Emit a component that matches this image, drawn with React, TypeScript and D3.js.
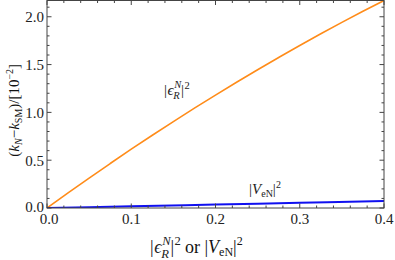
import React from 'react';
import * as d3 from 'd3';

// values
const xValues = [0, 0.025, 0.05, 0.075, 0.1, 0.125, 0.15, 0.175, 0.2, 0.225, 0.25, 0.275, 0.3, 0.325, 0.35, 0.375, 0.4];
const epsValues = [0, 0.158, 0.313, 0.465, 0.615, 0.761, 0.904, 1.044, 1.181, 1.315, 1.446, 1.574, 1.7, 1.822, 1.941, 2.057, 2.17];
const veXValues = [0, 0.1, 0.2, 0.3, 0.4];
const veValues = [0, 0.018, 0.036, 0.055, 0.073];
const xTickLabels = ['0.0', '0.1', '0.2', '0.3', '0.4'];
const yTickLabels = ['0.0', '0.5', '1.0', '1.5', '2.0'];

const width = 395;
const height = 260;
const marginLeft = 47;
const marginRight = 11;
const marginTop = 0.5;
const marginBottom = 52;

const font = 'Liberation Serif, Times New Roman, Times, DejaVu Serif, serif';

// |ϵ_R^N|^2 built from separate pieces so sub and superscript stack
const EpsLabel: React.FC<{ x: number; y: number; size: number }> = ({ x, y, size }) => {
    const s = size * 0.7;
    return (
        <g fill="#222">
            <text fontFamily={font} x={x} y={y} fontSize={size}>|</text>
            <text fontFamily={font} x={x + size * 0.24} y={y} fontSize={size} fontStyle="italic">ϵ</text>
            <text fontFamily={font} x={x + size * 0.62} y={y + size * 0.28} fontSize={s} fontStyle="italic">R</text>
            <text fontFamily={font} x={x + size * 0.68} y={y - size * 0.45} fontSize={s} fontStyle="italic">N</text>
            <text fontFamily={font} x={x + size * 1.14} y={y} fontSize={size}>|</text>
            <text fontFamily={font} x={x + size * 1.36} y={y - size * 0.42} fontSize={s}>2</text>
        </g>
    );
};

const App: React.FC = () => {
    const x = d3.scaleLinear().domain([0, 0.4]).range([marginLeft, width - marginRight]);
    const y = d3.scaleLinear().domain([0, 2.17]).range([height - marginBottom, marginTop]);

    const line = d3.line<[number, number]>().x((d) => x(d[0])).y((d) => y(d[1])).curve(d3.curveMonotoneX);
    const epsPath = line(xValues.map((v, i) => [v, epsValues[i]]) as [number, number][]) || '';
    const vePath = line(veXValues.map((v, i) => [v, veValues[i]]) as [number, number][]) || '';

    const xMajor = xTickLabels.map((t) => +t);
    const yMajor = yTickLabels.map((t) => +t);
    const xMinor = d3.range(0, 0.4001, 0.02).filter((v) => !xMajor.some((m) => Math.abs(m - v) < 1e-6));
    const yMinor = d3.range(0, 2.17, 0.1).filter((v) => !yMajor.some((m) => Math.abs(m - v) < 1e-6));

    const x0 = x(0), x1 = x(0.4);
    const y0 = y(0), y1 = y(2.17);
    const frame = '#444';

    return (
        <svg width={width} height={height} style={{ position: 'absolute', left: 0, top: 0, background: '#fff' }}>
            <defs>
                <clipPath id="plot">
                    <rect x={x0} y={y1} width={x1 - x0} height={y0 - y1} />
                </clipPath>
            </defs>

            {/* curves */}
            <g clipPath="url(#plot)">
                <path d={epsPath} fill="none" stroke="#ff8c1a" strokeWidth={1.6} />
                <path d={vePath} fill="none" stroke="#1010f0" strokeWidth={2} />
            </g>

            {/* frame */}
            <rect x={x0} y={y1} width={x1 - x0} height={y0 - y1} fill="none" stroke={frame} strokeWidth={1} />

            {/* ticks on all four sides */}
            {xMajor.map((v) => (
                <g key={'xM' + v}>
                    <line x1={x(v)} x2={x(v)} y1={y0} y2={y0 - 4.5} stroke={frame} />
                    <line x1={x(v)} x2={x(v)} y1={y1} y2={y1 + 4.5} stroke={frame} />
                </g>
            ))}
            {xMinor.map((v) => (
                <g key={'xm' + v}>
                    <line x1={x(v)} x2={x(v)} y1={y0} y2={y0 - 2.5} stroke={frame} />
                    <line x1={x(v)} x2={x(v)} y1={y1} y2={y1 + 2.5} stroke={frame} />
                </g>
            ))}
            {yMajor.map((v) => (
                <g key={'yM' + v}>
                    <line x1={x0} x2={x0 + 4.5} y1={y(v)} y2={y(v)} stroke={frame} />
                    <line x1={x1} x2={x1 - 4.5} y1={y(v)} y2={y(v)} stroke={frame} />
                </g>
            ))}
            {yMinor.map((v) => (
                <g key={'ym' + v}>
                    <line x1={x0} x2={x0 + 2.5} y1={y(v)} y2={y(v)} stroke={frame} />
                    <line x1={x1} x2={x1 - 2.5} y1={y(v)} y2={y(v)} stroke={frame} />
                </g>
            ))}

            {/* tick labels */}
            {xTickLabels.map((t) => (
                <text key={'xl' + t} fontFamily={font} x={x(+t) + (+t === 0 ? 2 : 0)} y={y0 + 16} textAnchor="middle" fontSize={15} fill="#222">{t}</text>
            ))}
            {yTickLabels.map((t) => (
                <text key={'yl' + t} fontFamily={font} x={x0 - 3} y={y(+t) + (+t === 0 ? 4 : 5.5)} textAnchor="end" fontSize={15} fill="#222">{t}</text>
            ))}

            {/* x axis title */}
            <EpsLabel x={150} y={253} size={18} />
            <text fontFamily={font} x={185} y={253} fontSize={18} fill="#111">
                or |<tspan fontStyle="italic">V</tspan>
                <tspan fontSize={12} dy={3}>eN</tspan>
                <tspan dy={-3}>|</tspan>
                <tspan fontSize={12} dy={-8}>2</tspan>
            </text>

            {/* y axis title */}
            <text fontFamily={font} transform={`translate(19,${(y0 + y1) / 2 + 6}) rotate(-90)`} textAnchor="middle" fontSize={15} fill="#111">
                (<tspan fontStyle="italic">k</tspan>
                <tspan fontStyle="italic" fontSize={10} dy={3}>N</tspan>
                <tspan dy={-3}>−</tspan>
                <tspan fontStyle="italic">k</tspan>
                <tspan fontSize={10} dy={3}>SM</tspan>
                <tspan dy={-3}>)/[10</tspan>
                <tspan fontSize={10} dy={-6}>−2</tspan>
                <tspan dy={6}>]</tspan>
            </text>

            {/* curve labels */}
            <EpsLabel x={164} y={95} size={15} />
            <text fontFamily={font} x={249} y={194} fontSize={15} fill="#222">
                |<tspan fontStyle="italic">V</tspan>
                <tspan fontSize={10} dy={3}>eN</tspan>
                <tspan dy={-3}>|</tspan>
                <tspan fontSize={10} dy={-6}>2</tspan>
            </text>
        </svg>
    );
};

export default App;
